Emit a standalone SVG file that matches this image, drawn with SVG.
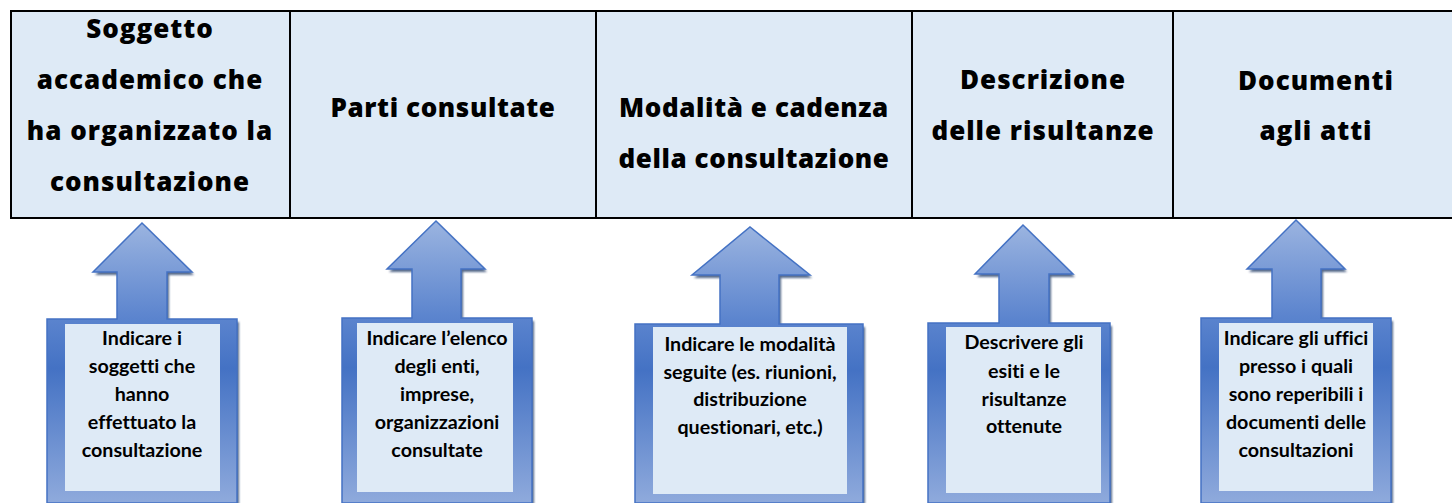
<svg xmlns="http://www.w3.org/2000/svg" width="1452" height="503" viewBox="0 0 1452 503">
<defs>
<linearGradient id="blueGrad" x1="0" y1="0" x2="0" y2="1">
<stop offset="0" stop-color="#9BB4E0"/>
<stop offset="0.34" stop-color="#5B84CE"/>
<stop offset="0.52" stop-color="#4472C4"/>
<stop offset="1" stop-color="#8FAADC"/>
</linearGradient>
<filter id="sh" x="-10%" y="-10%" width="120%" height="120%">
<feGaussianBlur stdDeviation="0.8"/>
</filter>
</defs>
<style>
.cell{fill:#DEEAF6;stroke:#000;stroke-width:2}
.div{stroke:#000;stroke-width:2}
.hA{font-family:"Open Sans",sans-serif;font-weight:800;font-size:26px;letter-spacing:1px;fill:#000;text-anchor:middle}
.hB{font-family:"Open Sans",sans-serif;font-weight:800;font-size:26px;letter-spacing:0.6px;fill:#000;text-anchor:middle}
.co{fill:url(#blueGrad);stroke:#4472C4;stroke-width:1.5}
.shd{fill:#1F3864;opacity:0.75;filter:url(#sh)}
.inner{fill:#DEEAF6}
.t{font-family:Lato,sans-serif;font-weight:700;font-size:19.7px;font-variant-ligatures:none;fill:#000;text-anchor:middle}
</style>
<g id="header">
<rect class="cell" x="11" y="11" width="1450" height="207"/>
<line class="div" x1="290" y1="11" x2="290" y2="218"/>
<line class="div" x1="596" y1="11" x2="596" y2="218"/>
<line class="div" x1="912" y1="11" x2="912" y2="218"/>
<line class="div" x1="1173" y1="11" x2="1173" y2="218"/>
</g>
<g id="h1">
<text class="hA" x="150" y="38">Soggetto</text>
<text class="hA" x="150" y="89">accademico che</text>
<text class="hA" x="150" y="140">ha organizzato la</text>
<text class="hA" x="150" y="191">consultazione</text>
</g>
<g id="h2">
<text class="hB" x="443" y="117">Parti consultate</text>
</g>
<g id="h3">
<text class="hB" x="754" y="117">Modalità e cadenza</text>
<text class="hB" x="754" y="168">della consultazione</text>
</g>
<g id="h4">
<text class="hA" x="1043" y="89">Descrizione</text>
<text class="hA" x="1043" y="140">delle risultanze</text>
</g>
<g id="h5">
<text class="hA" x="1316" y="90">Documenti</text>
<text class="hA" x="1316" y="140">agli atti</text>
</g>
<g id="c1">
<path class="shd" transform="translate(2,3)" d="M47,319 L117,319 L117,272 L93,272 L142,223 L192,272 L167,272 L167,319 L237,319 L237,503 L47,503 Z"/>
<path class="co" d="M47,319 L117,319 L117,272 L93,272 L142,223 L192,272 L167,272 L167,319 L237,319 L237,503 L47,503 Z"/>
<rect class="inner" x="65" y="324" width="155" height="167"/>
<text class="t" x="142" y="345">Indicare i</text>
<text class="t" x="142" y="373">soggetti che</text>
<text class="t" x="142" y="401">hanno</text>
<text class="t" x="142" y="429">effettuato la</text>
<text class="t" x="142" y="457">consultazione</text>
</g>
<g id="c2">
<path class="shd" transform="translate(2,3)" d="M342,318 L412,318 L412,269 L387,269 L436,221 L485,269 L461,269 L461,318 L532,318 L532,503 L342,503 Z"/>
<path class="co" d="M342,318 L412,318 L412,269 L387,269 L436,221 L485,269 L461,269 L461,318 L532,318 L532,503 L342,503 Z"/>
<rect class="inner" x="357" y="323" width="156" height="169"/>
<text class="t" x="437" y="345">Indicare l’elenco</text>
<text class="t" x="437" y="373">degli enti,</text>
<text class="t" x="437" y="401">imprese,</text>
<text class="t" x="437" y="429">organizzazioni</text>
<text class="t" x="437" y="457">consultate</text>
</g>
<g id="c3">
<path class="shd" transform="translate(2,3)" d="M635,324 L720,324 L720,275 L692,275 L750,227 L810,275 L779,275 L779,324 L863,324 L863,503 L635,503 Z"/>
<path class="co" d="M635,324 L720,324 L720,275 L692,275 L750,227 L810,275 L779,275 L779,324 L863,324 L863,503 L635,503 Z"/>
<rect class="inner" x="653" y="327" width="194" height="167"/>
<text class="t" x="750" y="351">Indicare le modalità</text>
<text class="t" x="750" y="379">seguite (es. riunioni,</text>
<text class="t" x="750" y="406">distribuzione</text>
<text class="t" x="750" y="434">questionari, etc.)</text>
</g>
<g id="c4">
<path class="shd" transform="translate(2,3)" d="M928,323 L999,323 L999,274 L975,274 L1023,225 L1073,274 L1049,274 L1049,323 L1110,323 L1110,503 L928,503 Z"/>
<path class="co" d="M928,323 L999,323 L999,274 L975,274 L1023,225 L1073,274 L1049,274 L1049,323 L1110,323 L1110,503 L928,503 Z"/>
<rect class="inner" x="946" y="327" width="155" height="166"/>
<text class="t" x="1024" y="349">Descrivere gli</text>
<text class="t" x="1024" y="378">esiti e le</text>
<text class="t" x="1024" y="406">risultanze</text>
<text class="t" x="1024" y="433">ottenute</text>
</g>
<g id="c5">
<path class="shd" transform="translate(2,3)" d="M1201,318 L1272,318 L1272,269 L1247,269 L1296,220 L1345,269 L1321,269 L1321,318 L1391,318 L1391,503 L1201,503 Z"/>
<path class="co" d="M1201,318 L1272,318 L1272,269 L1247,269 L1296,220 L1345,269 L1321,269 L1321,318 L1391,318 L1391,503 L1201,503 Z"/>
<rect class="inner" x="1219" y="323" width="154" height="168"/>
<text class="t" x="1296" y="345">Indicare gli uffici</text>
<text class="t" x="1296" y="373">presso i quali</text>
<text class="t" x="1296" y="401">sono reperibili i</text>
<text class="t" x="1296" y="429">documenti delle</text>
<text class="t" x="1296" y="457">consultazioni</text>
</g>
</svg>
